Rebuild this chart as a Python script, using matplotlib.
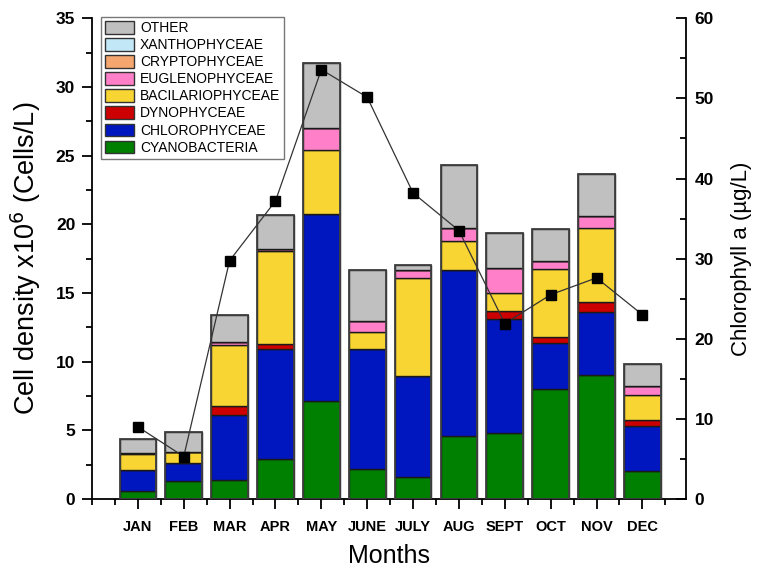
import matplotlib
matplotlib.use("Agg")
import matplotlib.pyplot as plt
import numpy as np
from matplotlib.patches import Patch
from matplotlib.ticker import MultipleLocator

plt.rcParams['font.family'] = ['Liberation Sans', 'DejaVu Sans']

months = ["JAN", "FEB", "MAR", "APR", "MAY", "JUNE", "JULY", "AUG", "SEPT", "OCT", "NOV", "DEC"]

# cell density x10^6 cells/L per group, stacked bottom to top
cyanobacteria     = [0.60, 1.33, 1.38, 2.89, 7.14, 2.16, 1.63, 4.61, 4.78, 8.01, 9.03, 2.06]
chlorophyceae     = [1.51, 1.32, 4.76, 8.02, 13.59, 8.79, 7.35, 12.04, 8.35, 3.37, 4.57, 3.28]
dynophyceae       = [0.00, 0.00, 0.61, 0.37, 0.05, 0.00, 0.00, 0.00, 0.54, 0.39, 0.77, 0.41]
bacillariophyceae = [1.19, 0.75, 4.47, 6.75, 4.60, 1.24, 7.14, 2.14, 1.33, 5.00, 5.37, 1.80]
euglenophyceae    = [0.05, 0.00, 0.19, 0.19, 1.63, 0.80, 0.56, 0.92, 1.85, 0.56, 0.87, 0.70]
cryptophyceae     = [0.00] * 12
xanthophyceae     = [0.00] * 12
other             = [1.04, 1.48, 1.97, 2.48, 4.75, 3.69, 0.39, 4.64, 2.52, 2.33, 3.06, 1.60]

# chlorophyll a (µg/L)
chlorophyll_a = [9.0, 5.3, 29.75, 37.2, 53.6, 50.15, 38.2, 33.5, 21.9, 25.5, 27.6, 23.0]

groups = [
    ("CYANOBACTERIA", cyanobacteria, "#008000"),
    ("CHLOROPHYCEAE", chlorophyceae, "#0016BE"),
    ("DYNOPHYCEAE", dynophyceae, "#CC0000"),
    ("BACILARIOPHYCEAE", bacillariophyceae, "#F8D533"),
    ("EUGLENOPHYCEAE", euglenophyceae, "#FF80C8"),
    ("CRYPTOPHYCEAE", cryptophyceae, "#F5A66E"),
    ("XANTHOPHYCEAE", xanthophyceae, "#C2E8F8"),
    ("OTHER", other, "#C0C0C0"),
]

fig = plt.figure(figsize=(7.68, 5.67), dpi=100)
ax = fig.add_axes([0.1198, 0.120, 0.774, 0.8477])

x = np.arange(len(months))
bottom = np.zeros(len(months))
for name, vals, col in groups:
    vals = np.array(vals)
    ax.bar(x, vals, width=0.8, bottom=bottom, color=col, edgecolor="#1a1a1a",
           linewidth=1.0, zorder=2)
    bottom += vals
# outer outline of each stacked bar
ax.bar(x, bottom, width=0.8, fill=False, edgecolor="#404040", linewidth=1.3, zorder=3)

ax.set_xlim(-1.0, 11.96)
ax.set_ylim(0, 35)
ax.set_xticks(x)
ax.set_xticklabels(months, fontsize=10.5, fontweight="bold")
ax.xaxis.set_minor_locator(MultipleLocator(0.5))
ax.yaxis.set_major_locator(MultipleLocator(5))
ax.yaxis.set_minor_locator(MultipleLocator(2.5))
for lbl in ax.get_yticklabels():
    lbl.set_fontweight("bold")
    lbl.set_fontsize(12.5)
ax.tick_params(axis="both", which="major", direction="out", length=7, width=1.3, pad=5)
ax.tick_params(axis="both", which="minor", direction="out", length=4, width=1.3)
ax.tick_params(axis="x", which="major", pad=8)
ax.spines["top"].set_visible(False)
ax.spines["right"].set_visible(False)
for s in ("left", "bottom"):
    ax.spines[s].set_linewidth(1.3)

ax.set_xlabel("Months", fontsize=18, labelpad=7)
ax.set_ylabel("Cell density x10$^6$ (Cells/L)", fontsize=19.5, labelpad=9)

ax2 = ax.twinx()
ax2.set_ylim(0, 60)
ax2.yaxis.set_major_locator(MultipleLocator(10))
ax2.yaxis.set_minor_locator(MultipleLocator(5))
ax2.tick_params(axis="y", which="major", direction="in", length=7, width=1.3, pad=6)
ax2.tick_params(axis="y", which="minor", direction="in", length=4, width=1.3)
for lbl in ax2.get_yticklabels():
    lbl.set_fontweight("bold")
    lbl.set_fontsize(12.5)
ax2.spines["top"].set_visible(False)
ax2.spines["left"].set_visible(False)
ax2.spines["bottom"].set_visible(False)
ax2.spines["right"].set_linewidth(1.3)
ax2.plot(x, chlorophyll_a, color="#333333", linewidth=0.9, marker="s",
         markersize=7.5, markerfacecolor="black", markeredgecolor="black", zorder=5)
ax2.set_ylabel("Chlorophyll a (µg/L)", fontsize=16, labelpad=12)

handles = [Patch(facecolor=col, edgecolor="#333333", linewidth=1.0, label=name)
           for name, vals, col in reversed(groups)]
leg = ax.legend(handles=handles, loc="upper left", bbox_to_anchor=(101 / 768, 1 - 17 / 567),
                bbox_transform=fig.transFigure, fontsize=10, frameon=True, fancybox=False,
                handlelength=2.1, handleheight=1.0, handletextpad=0.4, labelspacing=0.22,
                borderpad=0.3, borderaxespad=0)
leg.get_frame().set_edgecolor("#555555")
leg.get_frame().set_linewidth(1.0)
leg.set_zorder(10)

fig.savefig("out.png", dpi=100)
